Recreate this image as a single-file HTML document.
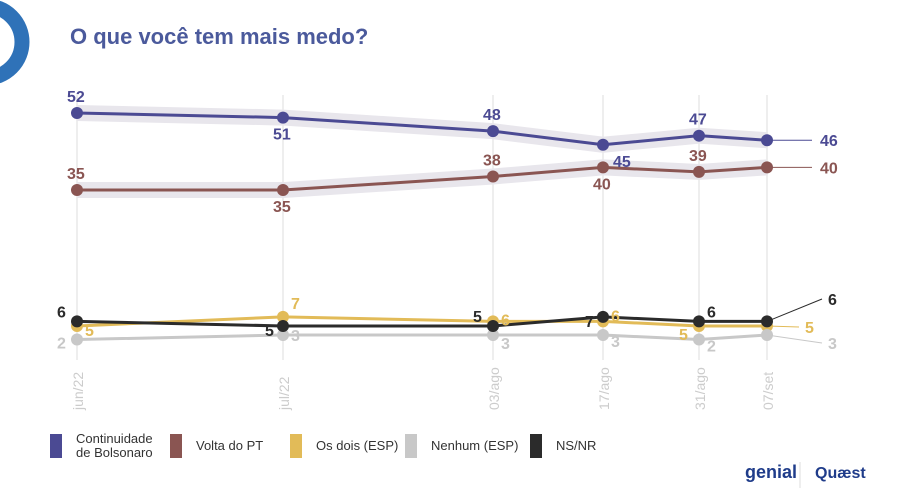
<!DOCTYPE html>
<html><head><meta charset="utf-8"><style>
body{margin:0;width:900px;height:501px;background:#fff;overflow:hidden;font-family:"Liberation Sans",sans-serif}
svg{position:absolute;left:0;top:0}
</style></head><body>
<svg width="900" height="501">
<circle cx="-14" cy="42" r="36" fill="none" stroke="#2f72b8" stroke-width="15"/>
<text x="70" y="44" font-size="22" font-weight="bold" fill="#4b5a9c">O que você tem mais medo?</text>
<g id="grid"></g><g id="bands"></g><g id="lines"></g><g id="labels"></g><g id="legend"></g>
<g>
<text x="745" y="478" font-size="18" font-weight="bold" fill="#1f3c8a">genial</text>
<line x1="800" y1="462" x2="800" y2="488" stroke="#ddd"/>
<text x="815" y="478" font-size="16" font-weight="bold" fill="#1f3c8a">Quæst</text>
</g>
</svg>
<script>
const categories=["jun/22","jul/22","03/ago","17/ago","31/ago","07/set"];
const bolsonaro=[52,51,48,45,47,46];
const voltaPT=[35,35,38,40,39,40];
const osDois=[5,7,6,6,5,5];
const nenhum=[2,3,3,3,2,3];
const nsnr=[6,5,5,7,6,6];
const seriesNames=["Continuidade de Bolsonaro","Volta do PT","Os dois (ESP)","Nenhum (ESP)","NS/NR"];
const NS="http://www.w3.org/2000/svg";
const xPos=[77,283,493,603,699,767];
function x(i){return xPos[i];}
function y(v){return 348.6-4.53*v;}
function mk(p,t,a){const e=document.createElementNS(NS,t);for(const k in a)e.setAttribute(k,a[k]);document.getElementById(p).appendChild(e);return e;}
categories.forEach((c,i)=>{
 const l=mk('grid','line',{x1:x(i),x2:x(i),y1:95,y2:360,stroke:'#eee','stroke-width':2});
 
 
 const t=mk('grid','text',{transform:`translate(${x(i)+6},410) rotate(-90)`,'font-size':14,fill:'#ccc'});
 t.textContent=c;
 
 
});
const S=[
 {d:bolsonaro,c:'#4b4a93',band:true,off:[-1,1,-1,1,-1,-1],end:[820,0],name:'bolsonaro',dx3:10},
 {d:voltaPT,c:'#8a5552',band:true,off:[-1,1,-1,1,-1,-1],end:[820,0],name:'volta-pt',dx3:-10},
 {d:osDois,c:'#e2bb58',off:[1,-1,0,0,1,0],end:[805,333],name:'os-dois'},
 {d:nenhum,c:'#c8c8c8',off:[0,0,1,1,1,0],end:[828,349],name:'nenhum'},
 {d:nsnr,c:'#2b2b2b',off:[-1,0,-1,0,-1,0],end:[828,305],name:'ns-nr'}];
S.forEach((s,k)=>{
 const pts=s.d.map((v,i)=>x(i)+','+y(v)).join(' ');
 if(s.band){const b=mk('bands','polyline',{points:pts,fill:'none',stroke:'#e8e6ec','stroke-width':16,'stroke-linejoin':'round'});
  
  }
 const pl=mk('lines','polyline',{points:pts,fill:'none',stroke:s.c,'stroke-width':3});
 
 
 s.d.forEach((v,i)=>{
  const c=mk('lines','circle',{cx:x(i),cy:y(v),r:6,fill:s.c});
  
  
  let lx,ly;
  if(i==s.d.length-1){
   if(s.band){lx=s.end[0];ly=y(v)+6;mk('lines','line',{x1:x(i),x2:lx-8,y1:y(v),y2:y(v),stroke:s.c,'stroke-width':1});}
   else{lx=s.end[0];ly=s.end[1];mk('lines','line',{x1:x(i),y1:y(v),x2:lx-6,y2:ly-6,stroke:s.c,'stroke-width':1});}
  }else if(s.band){lx=x(i)+(i==3?s.dx3:-10);ly=y(v)+(s.off[i]<0?-11:22);}
  else if(k==4){lx=x(i)+[-20,-18,-20,-18,8][i];ly=y(v)+[-4,10,-4,10,-4][i];}
  else if(k==2){lx=x(i)+[8,8,8,8,-20][i];ly=y(v)+[10,-8,4,0,14][i];}
  else{lx=x(i)+[-20,8,8,8,8][i];ly=y(v)+[9,6,14,12,12][i];}
  const t=mk('labels','text',{x:lx,y:ly,'font-size':16,'font-weight':'bold',fill:s.c});
  t.textContent=v;
  
  
 });
});
seriesNames.forEach((n,i)=>{
 const lx=[50,170,290,405,530][i];
 const r=mk('legend','rect',{x:lx,y:434,width:12,height:24,fill:S[i].c});
 
 
 const t=mk('legend','text',{x:lx+26,y:i==0?443:450,'font-size':13,fill:'#333'});
 
 
 if(i==0){t.innerHTML='<tspan x="'+(lx+26)+'">Continuidade</tspan><tspan x="'+(lx+26)+'" dy="14">de Bolsonaro</tspan>';}
 else t.textContent=n;
});
</script>
</body></html>
